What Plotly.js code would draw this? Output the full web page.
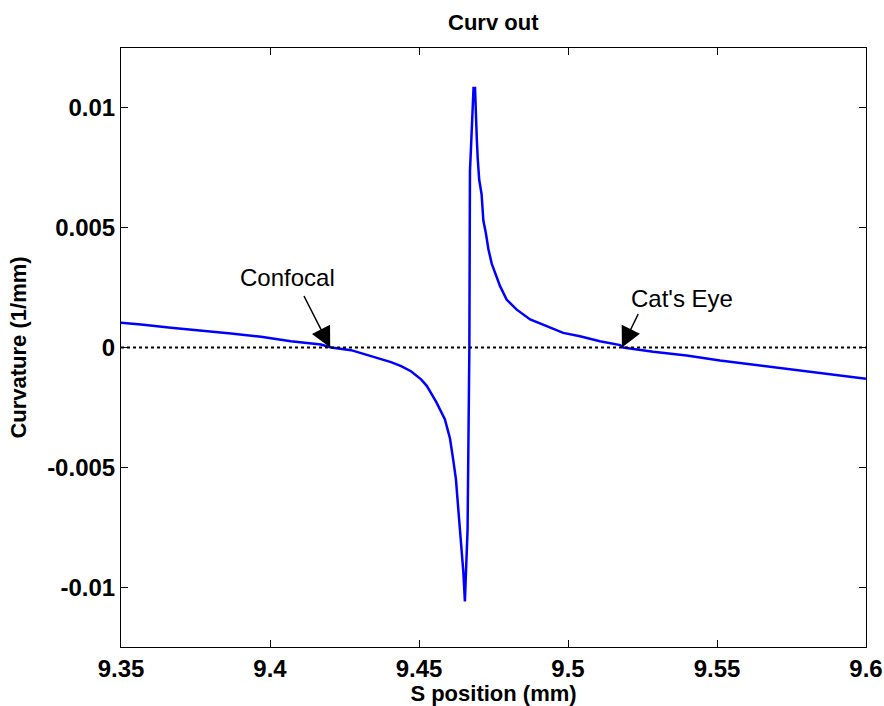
<!DOCTYPE html>
<html>
<head>
<meta charset="utf-8">
<script src="https://cdn.plot.ly/plotly-3.0.1.min.js"></script>
<style>html,body{margin:0;padding:0;background:#fff;}#chart{width:884px;height:706px;}</style>
</head>
<body>
<div id="chart"></div>
<script>
// S position (mm)
const sPos = [
  9.3500, 9.3567, 9.3668, 9.3768, 9.3869, 9.3970, 9.4070, 9.4171, 9.4205,
  9.4272, 9.4339, 9.4406, 9.4440, 9.4473, 9.4507, 9.4526, 9.4543, 9.4559, 9.4587,
  9.4604, 9.4615, 9.4624, 9.4629, 9.4635, 9.4641, 9.4645, 9.4649, 9.4654,
  9.4660, 9.4663, 9.4669, 9.4671, 9.4675, 9.4679, 9.4683, 9.4688, 9.4690,
  9.4694, 9.4697, 9.4702, 9.4710, 9.4716, 9.4724, 9.4733, 9.4744, 9.4755,
  9.4772, 9.4794, 9.4828, 9.4873, 9.4929, 9.4984, 9.5040, 9.5107, 9.5175,
  9.5185, 9.5286, 9.5398, 9.5510, 9.5622, 9.5734, 9.5846, 9.5957, 9.6000
];
// Curvature (1/mm)
const curvature = [
  0.00103, 0.00096, 0.00082, 0.00071, 0.00058, 0.00045, 0.00026, 0.000125, 0,
  -0.00011, -0.00036, -0.00061, -0.00078, -0.00099, -0.00133, -0.0016, -0.00196, -0.0023, -0.0030,
  -0.0038, -0.0047, -0.0055, -0.0063, -0.0072, -0.0080, -0.0088, -0.0094, -0.0106,
  -0.0090, -0.0076, 0, 0.00735, 0.0085, 0.0097, 0.01083, 0.01083, 0.0098,
  0.0087, 0.0079, 0.0070, 0.0064, 0.0053, 0.0048, 0.0041, 0.0035, 0.0031,
  0.00256, 0.0020, 0.00158, 0.00117, 0.00089, 0.00061, 0.00047, 0.00026, 0.0001,
  0, -0.00018, -0.00033, -0.00054, -0.00071, -0.00089, -0.00105, -0.00122, -0.0013
];
// zero reference line
const zeroX = [9.35, 9.6];
const zeroY = [0, 0];

const xTickVals = [9.35, 9.4, 9.45, 9.5, 9.55, 9.6];
const xTickText = ['9.35', '9.4', '9.45', '9.5', '9.55', '9.6'];
const yTickVals = [0.01, 0.005, 0, -0.005, -0.01];
const yTickText = ['0.01', '0.005', '0', '-0.005', '-0.01'];

// annotation points (head of arrow at zero crossings)
const noteLabels = ['Confocal', "Cat's Eye"];
const noteHeadX = [9.4202, 9.5181];
const noteTextX = [9.4060, 9.5382];
const noteTextY = [0.00292, 0.00204];

const traces = [
  {
    x: sPos, y: curvature, type: 'scatter', mode: 'lines',
    line: {color: '#0000ff', width: 2.5}, hoverinfo: 'skip'
  },
  {
    x: zeroX, y: zeroY, type: 'scatter', mode: 'lines',
    line: {color: '#000000', width: 2, dash: 'dot'}, hoverinfo: 'skip'
  }
];

const arrowOffsets = [[-27, -53], [17, -35]];
const annotations = [];
noteLabels.forEach((lab, i) => {
  annotations.push({
    x: noteTextX[i], y: noteTextY[i], xref: 'x', yref: 'y',
    text: lab, showarrow: false, xanchor: 'center', yanchor: 'middle',
    font: {family: 'Liberation Sans, Arial, sans-serif', size: 24, color: '#000'}
  });
  annotations.push({
    x: noteHeadX[i], y: 0, xref: 'x', yref: 'y', text: '',
    showarrow: true, arrowhead: 2, arrowsize: 2.7, arrowwidth: 1.5,
    arrowcolor: '#000', ax: arrowOffsets[i][0], ay: arrowOffsets[i][1]
  });
});

const tickFont = {family: 'Liberation Sans, Arial, sans-serif', size: 24, color: '#000', weight: 'bold'};
const layout = {
  width: 884, height: 706,
  margin: {l: 121, r: 18, t: 48, b: 59},
  paper_bgcolor: '#fff', plot_bgcolor: '#fff',
  showlegend: false,
  title: {
    text: '<b>Curv out</b>', x: 0.558, xanchor: 'center', y: 0.969, yanchor: 'middle',
    font: {family: 'Liberation Sans, Arial, sans-serif', size: 22, color: '#000'}
  },
  xaxis: {
    range: [9.35, 9.6], tickvals: xTickVals, ticktext: xTickText,
    ticks: 'inside', ticklen: 7, tickwidth: 1, tickcolor: '#000',
    showline: true, linecolor: '#000', linewidth: 1, mirror: 'ticks',
    showgrid: false, zeroline: false, tickfont: tickFont,
    title: {text: '<b>S position (mm)</b>', standoff: 4,
      font: {family: 'Liberation Sans, Arial, sans-serif', size: 22, color: '#000'}}
  },
  yaxis: {
    range: [-0.0125, 0.0125], tickvals: yTickVals, ticktext: yTickText,
    ticks: 'inside', ticklen: 7, tickwidth: 1, tickcolor: '#000',
    showline: true, linecolor: '#000', linewidth: 1, mirror: 'ticks',
    showgrid: false, zeroline: false, tickfont: tickFont,
    title: {text: '<b>Curvature (1/mm)</b>', standoff: 14,
      font: {family: 'Liberation Sans, Arial, sans-serif', size: 22, color: '#000'}}
  },
  annotations: annotations
};

Plotly.newPlot('chart', traces, layout, {staticPlot: true, displayModeBar: false});
</script>
</body>
</html>
